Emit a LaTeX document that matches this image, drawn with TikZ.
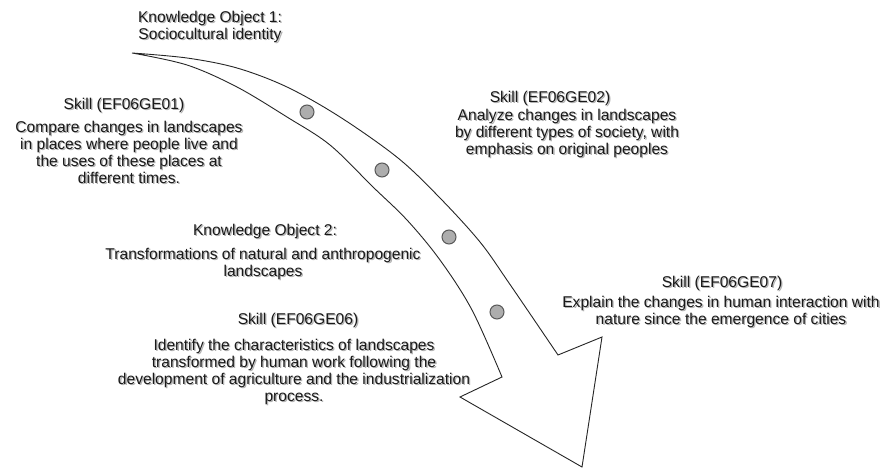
\documentclass[tikz,border=0pt]{standalone}
\usepackage{fontspec}
\setmainfont{Liberation Sans}
\begin{document}
\begin{tikzpicture}[x=1pt,y=-1pt,
  txt/.style={align=center, inner sep=0pt, text=black!90, font=\fontsize{15.6}{17}\selectfont},
  shd/.style={txt, text=black!30, xshift=1.3pt, yshift=-1.3pt},
  arrowline/.style={draw=black!85, line width=0.9pt, line join=miter, fill=white},
  dot/.style={circle, minimum size=14pt, inner sep=0pt, fill=black!32, draw=black!65, line width=1pt}]
\newcommand\Lbl[3]{\node[shd] at (#2) {#3}; \node[txt] (#1) at (#2) {#3};}
\fill[white] (0,0) rectangle (888,468);
\useasboundingbox (0,0) rectangle (888,468);
% big curved arrow
\coordinate (tail) at (132,53);
\draw[arrowline] (tail) -- plot[smooth, tension=0.55] coordinates {(132,53) (187,58) (237,68) (287,87) (340,117) (398,158) (440,198) (480,242) (509,283) (558,355)}
  -- (602,337) -- (582,467) -- (460,397) --
  plot[smooth, tension=0.55] coordinates {(502,377) (472,310) (440,260) (407,220) (373,187) (330,145) (287,117) (237,87) (187,65) (132,53)} -- cycle;
% dots
\node[dot] (d1) at (307,112) {};
\node[dot] (d2) at (382,170) {};
\node[dot] (d3) at (449,237) {};
\node[dot] (d4) at (497,312) {};
% texts
\Lbl{ko1}{210,27}{Knowledge Object 1:\\Sociocultural identity}
\Lbl{s1t}{124,105}{Skill (EF06GE01)}
\Lbl{s1b}{129,152}{Compare changes in landscapes\\in places where people live and\\the uses of these places at\\different times.}
\Lbl{s2t}{550,98}{Skill (EF06GE02)}
\Lbl{s2b}{567,133.5}{Analyze changes in landscapes\\by different types of society, with\\emphasis on original peoples}
\Lbl{ko2t}{265,231}{Knowledge Object 2:}
\Lbl{ko2b}{263,263.5}{Transformations of natural and anthropogenic\\landscapes}
\Lbl{s6t}{298,320}{Skill (EF06GE06)}
\Lbl{s6b}{294,372}{Identify the characteristics of landscapes\\transformed by human work following the\\development of agriculture and the industrialization\\process.}
\Lbl{s7t}{722,283}{Skill (EF06GE07)}
\Lbl{s7b}{721,311.5}{Explain the changes in human interaction with\\nature since the emergence of cities}
\end{tikzpicture}
\end{document}
